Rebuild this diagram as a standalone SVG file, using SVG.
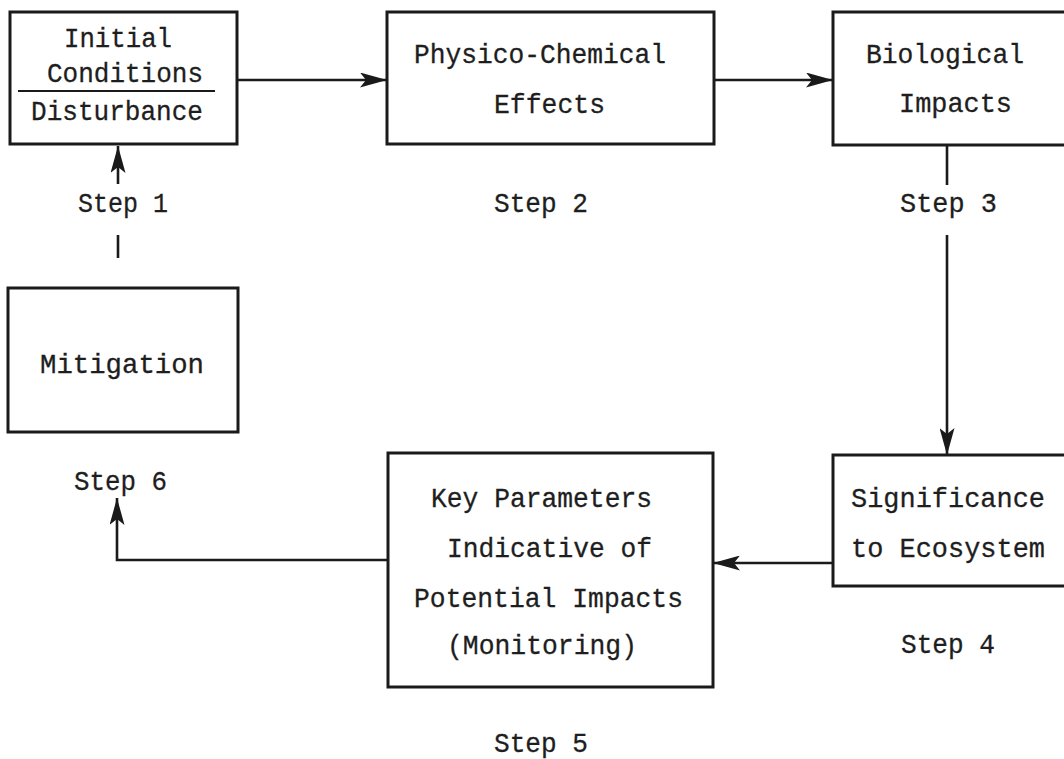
<svg xmlns="http://www.w3.org/2000/svg" width="1064" height="759" viewBox="0 0 1064 759">
<style>
.box{fill:#fff;stroke:#1a1a1a;stroke-width:3}
.t{font-family:"Liberation Mono","DejaVu Sans Mono",monospace;font-size:28px;fill:#1e1e1e;stroke:#1e1e1e;stroke-width:0.3}
.c{fill:none;stroke:#1a1a1a;stroke-width:2.6}
</style>
<defs>
<marker id="ah" markerUnits="userSpaceOnUse" markerWidth="27" markerHeight="15" refX="27" refY="7.5" orient="auto" viewBox="0 0 27 15">
<path d="M0,0 L27,7.5 L0,15 L6,7.5 z" fill="#1a1a1a"/>
</marker>
</defs>
<rect width="1064" height="759" fill="#fff"/>
<g id="connectors">
<line class="c" x1="237" y1="80" x2="387" y2="80" marker-end="url(#ah)"/>
<line class="c" x1="714" y1="80" x2="833" y2="80" marker-end="url(#ah)"/>
<line class="c" x1="118" y1="184" x2="118" y2="146" marker-end="url(#ah)"/>
<line class="c" x1="118" y1="235" x2="118" y2="258"/>
<line class="c" x1="947" y1="145" x2="947" y2="185"/>
<line class="c" x1="947" y1="235" x2="947" y2="455" marker-end="url(#ah)"/>
<line class="c" x1="833" y1="563" x2="713" y2="563" marker-end="url(#ah)"/>
<polyline class="c" points="388,560 117,560 117,498" marker-end="url(#ah)"/>
</g>
<g id="n1">
<rect class="box" x="10" y="12" width="227" height="132"/>
<line x1="18" y1="91" x2="215" y2="91" stroke="#1a1a1a" stroke-width="2"/>
<text class="t" x="64" y="47" textLength="108" lengthAdjust="spacingAndGlyphs">Initial</text>
<text class="t" x="47" y="82" textLength="156" lengthAdjust="spacingAndGlyphs">Conditions</text>
<text class="t" x="31" y="120" textLength="172" lengthAdjust="spacingAndGlyphs">Disturbance</text>
</g>
<g id="n2">
<rect class="box" x="387" y="12" width="327" height="132"/>
<text class="t" x="414" y="63" textLength="252" lengthAdjust="spacingAndGlyphs">Physico-Chemical</text>
<text class="t" x="494" y="113" textLength="111" lengthAdjust="spacingAndGlyphs">Effects</text>
</g>
<g id="n3">
<rect class="box" x="833" y="12" width="260" height="133"/>
<text class="t" x="866" y="63" textLength="158" lengthAdjust="spacingAndGlyphs">Biological</text>
<text class="t" x="899" y="112" textLength="113" lengthAdjust="spacingAndGlyphs">Impacts</text>
</g>
<g id="n4">
<rect class="box" x="833" y="455" width="260" height="131"/>
<text class="t" x="851" y="507" textLength="194" lengthAdjust="spacingAndGlyphs">Significance</text>
<text class="t" x="851" y="557" textLength="194" lengthAdjust="spacingAndGlyphs">to Ecosystem</text>
</g>
<g id="n5">
<rect class="box" x="388" y="453" width="325" height="234"/>
<text class="t" x="431" y="507" textLength="221" lengthAdjust="spacingAndGlyphs">Key Parameters</text>
<text class="t" x="447" y="557" textLength="205" lengthAdjust="spacingAndGlyphs">Indicative of</text>
<text class="t" x="414" y="607" textLength="269" lengthAdjust="spacingAndGlyphs">Potential Impacts</text>
<text class="t" x="447" y="654" textLength="190" lengthAdjust="spacingAndGlyphs">(Monitoring)</text>
</g>
<g id="n6">
<rect class="box" x="8" y="288" width="230" height="144"/>
<text class="t" x="40" y="373" textLength="164" lengthAdjust="spacingAndGlyphs">Mitigation</text>
</g>
<g id="labels">
<text class="t" x="78" y="212" textLength="90" lengthAdjust="spacingAndGlyphs">Step 1</text>
<text class="t" x="494" y="212" textLength="94" lengthAdjust="spacingAndGlyphs">Step 2</text>
<text class="t" x="900" y="212" textLength="97" lengthAdjust="spacingAndGlyphs">Step 3</text>
<text class="t" x="901" y="653" textLength="94" lengthAdjust="spacingAndGlyphs">Step 4</text>
<text class="t" x="494" y="752" textLength="94" lengthAdjust="spacingAndGlyphs">Step 5</text>
<text class="t" x="74" y="490" textLength="93" lengthAdjust="spacingAndGlyphs">Step 6</text>
</g>
</svg>
